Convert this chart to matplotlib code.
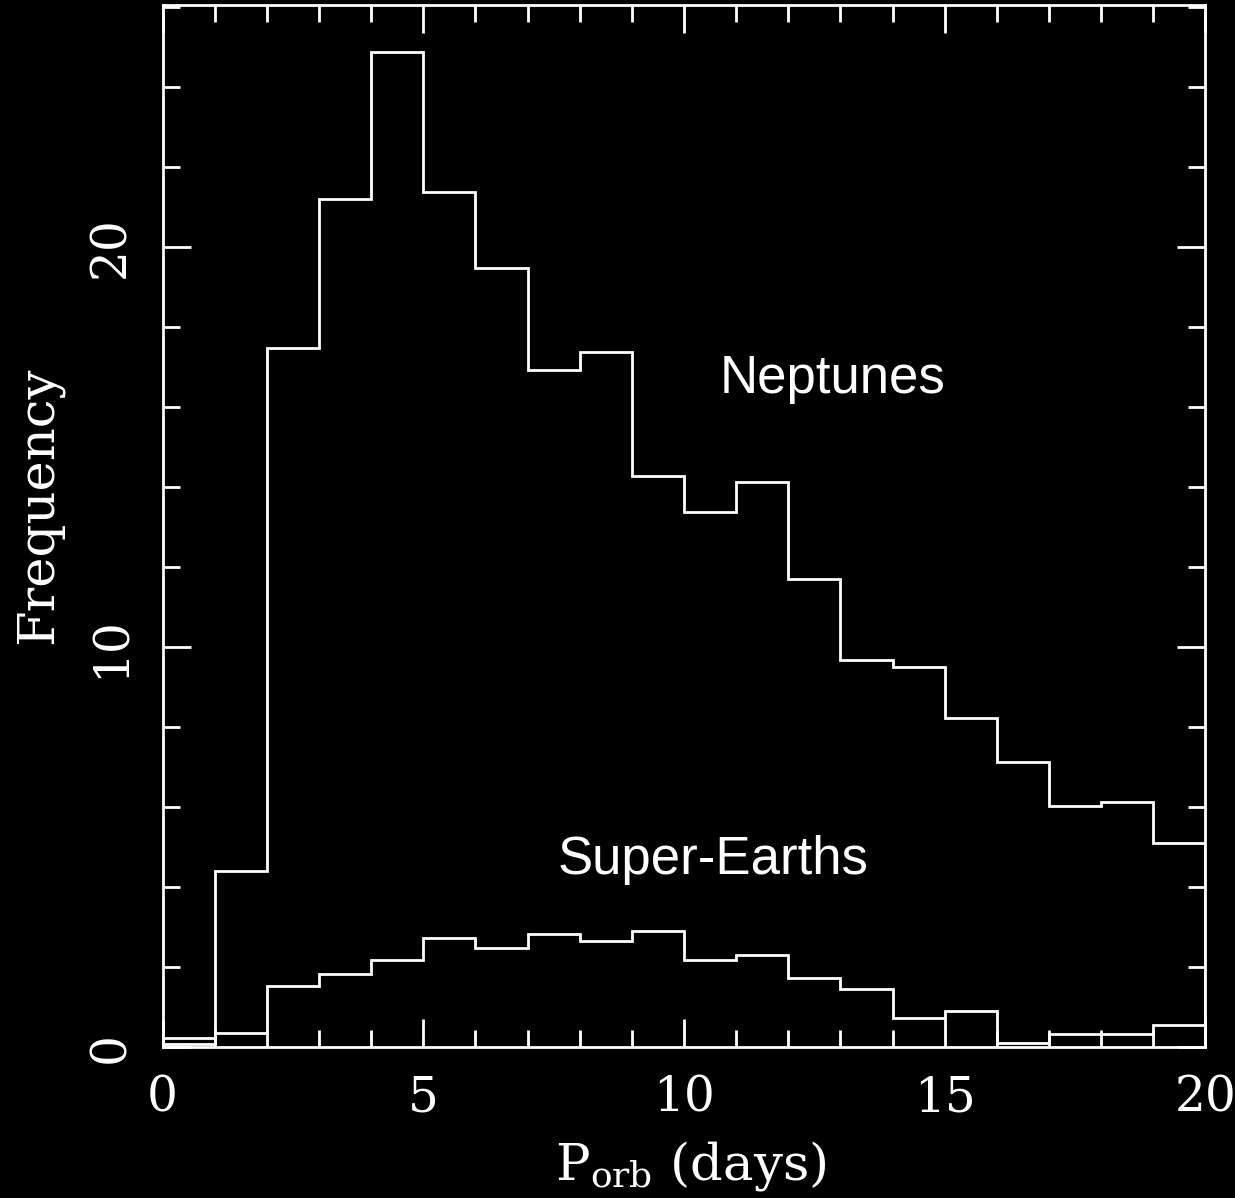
import matplotlib
matplotlib.use("Agg")
import matplotlib.pyplot as plt
import numpy as np
from matplotlib.ticker import MultipleLocator

plt.rcParams["mathtext.fontset"] = "dejavuserif"

# bin edges in days, one-day bins
bin_edges = [0, 1, 2, 3, 4, 5, 6, 7, 8, 9, 10, 11, 12, 13, 14, 15, 16, 17, 18, 19, 20]

neptunes = [0.22, 4.4, 17.48, 21.2, 24.88, 21.38, 19.48, 16.93, 17.38, 14.28,
            13.38, 14.13, 11.71, 9.68, 9.51, 8.23, 7.12, 6.03, 6.13, 5.11]
super_earths = [0.08, 0.36, 1.53, 1.83, 2.18, 2.73, 2.47, 2.83, 2.64, 2.9,
                2.18, 2.29, 1.73, 1.46, 0.73, 0.9, 0.1, 0.33, 0.33, 0.54]

label_neptunes = "Neptunes"
label_super = "Super-Earths"

fig = plt.figure(figsize=(12.35, 11.98), dpi=100, facecolor="black")
ax = fig.add_axes([0.1316, 0.1260, 0.8445, 0.8702], facecolor="black")

ax.stairs(neptunes, bin_edges, color="white", linewidth=2.0)
ax.stairs(super_earths, bin_edges, color="white", linewidth=2.0)

ax.set_xlim(0, 20)
ax.set_ylim(0, 26.06)

for s in ax.spines.values():
    s.set_color("white")
    s.set_linewidth(2.0)

ax.xaxis.set_major_locator(MultipleLocator(5))
ax.xaxis.set_minor_locator(MultipleLocator(1))
ax.yaxis.set_major_locator(MultipleLocator(10))
ax.yaxis.set_minor_locator(MultipleLocator(2))

ax.tick_params(which="both", direction="in", colors="white", top=True, right=True, width=2.0)
ax.tick_params(which="major", length=20)
ax.tick_params(which="minor", length=12)
ax.tick_params(axis="x", which="major", pad=20)
ax.tick_params(axis="y", which="major", pad=20)

serif = "DejaVu Serif"
for lab in ax.get_xticklabels():
    lab.set_fontfamily(serif)
    lab.set_fontsize(35)
for lab in ax.get_yticklabels():
    lab.set_fontfamily(serif)
    lab.set_fontsize(35)
    lab.set_rotation(90)
    lab.set_va("center")

ax.set_xlabel(r"P$_{\rm orb}$ (days)", color="white", fontsize=37, family=serif)
ax.xaxis.set_label_coords(0.506, -0.088)
ax.set_ylabel("Frequency", color="white", fontsize=37, family=serif, va="center")
ax.yaxis.set_label_coords(-0.119, 0.52)

ax.text(10.69, 16.7, label_neptunes, color="white", fontsize=38,
        family="Liberation Sans", ha="left", va="center")
ax.text(7.58, 4.68, label_super, color="white", fontsize=38,
        family="Liberation Sans", ha="left", va="center")

fig.savefig("out.png", dpi=100, facecolor="black")
